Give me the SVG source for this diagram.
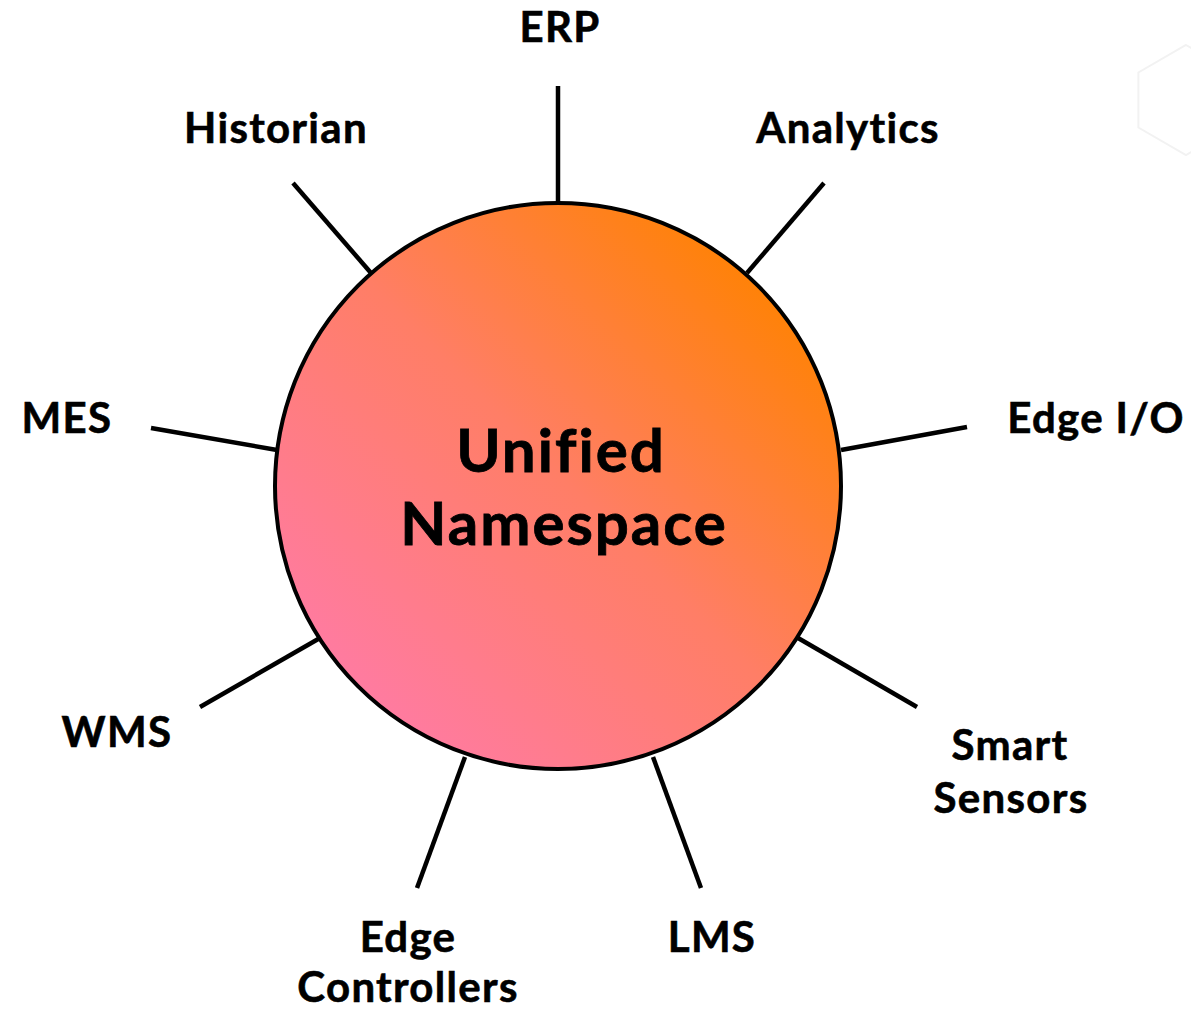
<svg xmlns="http://www.w3.org/2000/svg" width="1191" height="1010" viewBox="0 0 1191 1010">
<style>
.lbl{font-family:Lato,"Open Sans","Liberation Sans",sans-serif;font-weight:700;font-size:42px;letter-spacing:1.3px;fill:#000;stroke:#000;stroke-width:0.6;text-anchor:middle;font-variant-ligatures:none}
.hub{font-family:Lato,"Open Sans","Liberation Sans",sans-serif;font-weight:700;font-size:60px;letter-spacing:2px;fill:#000;stroke:#000;stroke-width:0.8;text-anchor:middle;font-variant-ligatures:none}
.con line{stroke:#000;stroke-width:4.5;stroke-linecap:butt}
</style>
<defs>
<linearGradient id="g" gradientUnits="userSpaceOnUse" x1="358" y1="685" x2="770" y2="275">
<stop offset="0" stop-color="#FF7BA0"/>
<stop offset="0.5" stop-color="#FF7E66"/>
<stop offset="1" stop-color="#FF8203"/>
</linearGradient>
</defs>
<rect width="1191" height="1010" fill="#fff"/>
<polygon points="1186,45 1233.6,72.5 1233.6,127.5 1186,155 1138.4,127.5 1138.4,72.5" fill="none" stroke="#f2f2f2" stroke-width="2"/>
<g class="con" id="connectors">
<line x1="558" y1="86" x2="558" y2="203"/>
<line x1="293" y1="183" x2="371" y2="273"/>
<line x1="824" y1="183" x2="747" y2="273"/>
<line x1="151" y1="428" x2="277" y2="450"/>
<line x1="967" y1="427" x2="841" y2="450"/>
<line x1="200" y1="707" x2="320" y2="638"/>
<line x1="917" y1="707" x2="798" y2="638"/>
<line x1="465" y1="757" x2="417" y2="888"/>
<line x1="653" y1="757" x2="701" y2="888"/>
</g>
<g id="hub">
<circle cx="558" cy="486" r="283" fill="url(#g)" stroke="#000" stroke-width="4"/>
<text class="hub" x="561" y="472">Unified</text>
<text class="hub" x="564" y="545">Namespace</text>
</g>
<g id="erp"><text class="lbl" x="560" y="42">ERP</text></g>
<g id="historian"><text class="lbl" x="276" y="143">Historian</text></g>
<g id="analytics"><text class="lbl" x="848" y="143">Analytics</text></g>
<g id="mes"><text class="lbl" x="67" y="433">MES</text></g>
<g id="edge-io"><text class="lbl" x="1096" y="433">Edge I/O</text></g>
<g id="wms"><text class="lbl" x="117" y="747">WMS</text></g>
<g id="smart-sensors"><text class="lbl" x="1010" y="760">Smart</text><text class="lbl" x="1011" y="813">Sensors</text></g>
<g id="edge-controllers"><text class="lbl" x="408" y="952">Edge</text><text class="lbl" x="408" y="1002">Controllers</text></g>
<g id="lms"><text class="lbl" x="712" y="952">LMS</text></g>
</svg>
